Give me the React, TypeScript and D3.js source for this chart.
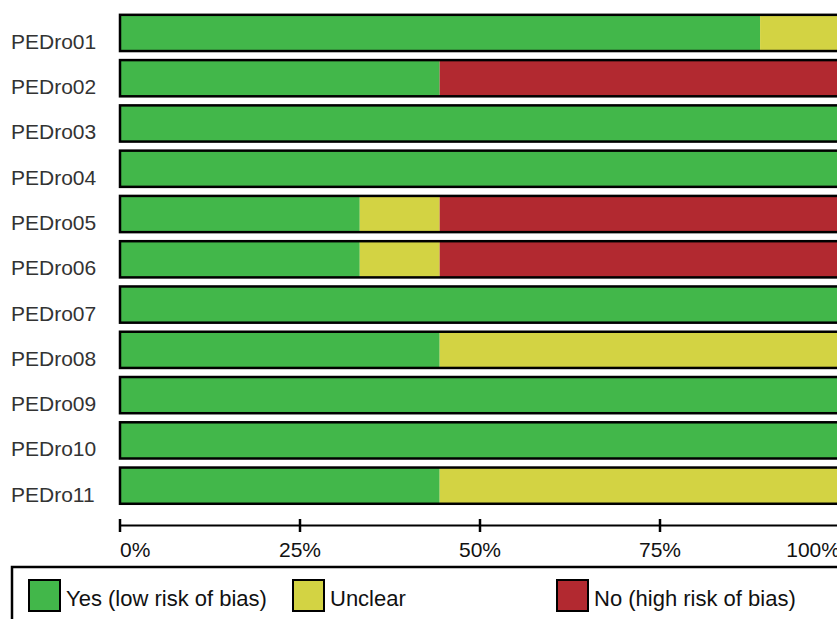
import React from "react";
import * as d3 from "d3";

const categories = ["PEDro01","PEDro02","PEDro03","PEDro04","PEDro05","PEDro06","PEDro07","PEDro08","PEDro09","PEDro10","PEDro11"];
const yesValues = [88.9, 44.4, 100, 100, 33.3, 33.3, 100, 44.4, 100, 100, 44.4];
const unclearValues = [11.1, 0, 0, 0, 11.1, 11.1, 0, 55.6, 0, 0, 55.6];
const noValues = [0, 55.6, 0, 0, 55.6, 55.6, 0, 0, 0, 0, 0];
const tickValues = [0, 25, 50, 75, 100];
const seriesNames = ["Yes (low risk of bias)", "Unclear", "No (high risk of bias)"];
const seriesColors = ["#42b74a", "#d3d343", "#b22930"];

export default function App() {
  const W = 837, H = 619;
  const x = d3.scaleLinear().domain([0, 100]).range([120, 840]);
  const y = d3.scaleBand().domain(categories).range([10.3, 508.3]).paddingInner(0.2).paddingOuter(0.1);
  const font = "'Liberation Sans', Arial, sans-serif";
  const series = [yesValues, unclearValues, noValues];
  const legendX = [29, 293, 557];
  return (
    <svg width={W} height={H} style={{ position: "absolute", left: 0, top: 0 }} fontFamily={font}>
      {categories.map((c, i) => {
        let acc = 0;
        const y0 = y(c)!;
        const h = y.bandwidth();
        return (
          <g key={c}>
            {series.map((s, k) => {
              const start = acc;
              acc += s[i];
              if (s[i] <= 0) return null;
              return <rect key={k} x={x(start)} y={y0} width={x(acc) - x(start)} height={h} fill={seriesColors[k]} />;
            })}
            <rect x={x(0)} y={y0} width={x(100) - x(0)} height={h} fill="none" stroke="#000" strokeWidth={2.5} />
            <text x={11} y={y0 + h / 2 + 16} fontSize={21} fill="#333">{c}</text>
          </g>
        );
      })}
      <line x1={x(0)} x2={x(100)} y1={525.5} y2={525.5} stroke="#000" strokeWidth={2} />
      {tickValues.map((t, i) => (
        <g key={t}>
          <line x1={x(t)} x2={x(t)} y1={519} y2={532} stroke="#000" strokeWidth={2.5} />
          <text x={x(t)} y={557} fontSize={21}
            textAnchor={i === 0 ? "start" : i === tickValues.length - 1 ? "end" : "middle"} fill="#111">{t}%</text>
        </g>
      ))}
      <rect x={12} y={567} width={900} height={100} fill="none" stroke="#000" strokeWidth={2.5} />
      {seriesNames.map((n, k) => (
        <g key={n}>
          <rect x={legendX[k]} y={580} width={31} height={31} fill={seriesColors[k]} stroke="#000" strokeWidth={2} />
          <text x={legendX[k] + 37} y={606} fontSize={22} fill="#111">{n}</text>
        </g>
      ))}
    </svg>
  );
}
